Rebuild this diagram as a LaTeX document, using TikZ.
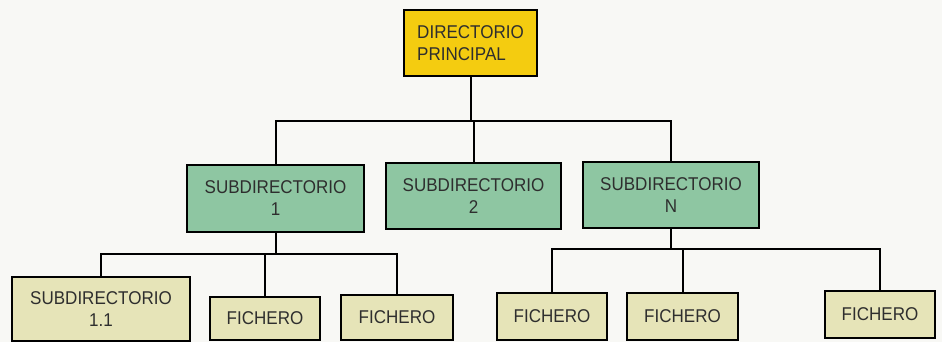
\documentclass[tikz,border=0pt]{standalone}
\usepackage{fontspec}
\setmainfont{Liberation Sans}[FakeStretch=0.92]
\definecolor{bgc}{HTML}{F8F8F5}
\definecolor{topc}{HTML}{F4CC10}
\definecolor{midc}{HTML}{8EC6A2}
\definecolor{lowc}{HTML}{E6E4B8}
\definecolor{txtc}{HTML}{2E2E2E}
\begin{document}
\begin{tikzpicture}[x=1pt,y=-1pt,
  box/.style={draw=black,line width=2.6pt,inner sep=0pt,text=txtc,
    font=\fontsize{18.5}{22}\selectfont},
  topbox/.style={box,fill=topc,align=left},
  midbox/.style={box,fill=midc,align=center},
  lowbox/.style={box,fill=lowc,align=center},
  conn/.style={line width=2pt,draw=black}]
\fill[bgc] (0,0) rectangle (942,342);
\useasboundingbox (0,0) rectangle (942,342);
% boxes
\node[topbox,minimum width=133pt,minimum height=66pt] (top) at (470.5,43) {DIRECTORIO\\PRINCIPAL};
\node[midbox,minimum width=177pt,minimum height=67pt] (s1) at (275.5,198.5) {SUBDIRECTORIO\\1};
\node[midbox,minimum width=175pt,minimum height=66pt] (s2) at (473.5,196) {SUBDIRECTORIO\\2};
\node[midbox,minimum width=176pt,minimum height=66pt] (sN) at (671,195) {SUBDIRECTORIO\\N};
\node[lowbox,minimum width=178pt,minimum height=64pt] (s11) at (101,309) {SUBDIRECTORIO\\1.1};
\node[lowbox,minimum width=110pt,minimum height=43pt] (f1) at (265,318.5) {FICHERO};
\node[lowbox,minimum width=112pt,minimum height=45pt] (f2) at (397,317.5) {FICHERO};
\node[lowbox,minimum width=110pt,minimum height=47pt] (f3) at (552,316.5) {FICHERO};
\node[lowbox,minimum width=111pt,minimum height=47pt] (f4) at (682.5,316.5) {FICHERO};
\node[lowbox,minimum width=110pt,minimum height=47pt] (f5) at (880,314.5) {FICHERO};
% bus coordinates
\coordinate (b0) at (472,121);
\coordinate (b1) at (277,254);
\coordinate (bN) at (672,249);
% connectors
\draw[conn] (top.south) -- (top.south |- b0);
\draw[conn] (s1.north) |- (sN.north |- b0) -- (sN.north);
\draw[conn] (s2.north) -- (s2.north |- b0);
\draw[conn] (s1.south) -- (s1.south |- b1);
\draw[conn] (s11.north) |- (f2.north |- b1) -- (f2.north);
\draw[conn] (f1.north) -- (f1.north |- b1);
\draw[conn] (sN.south) -- (sN.south |- bN);
\draw[conn] (f3.north) |- (f5.north |- bN) -- (f5.north);
\draw[conn] (f4.north) -- (f4.north |- bN);
\end{tikzpicture}
\end{document}
